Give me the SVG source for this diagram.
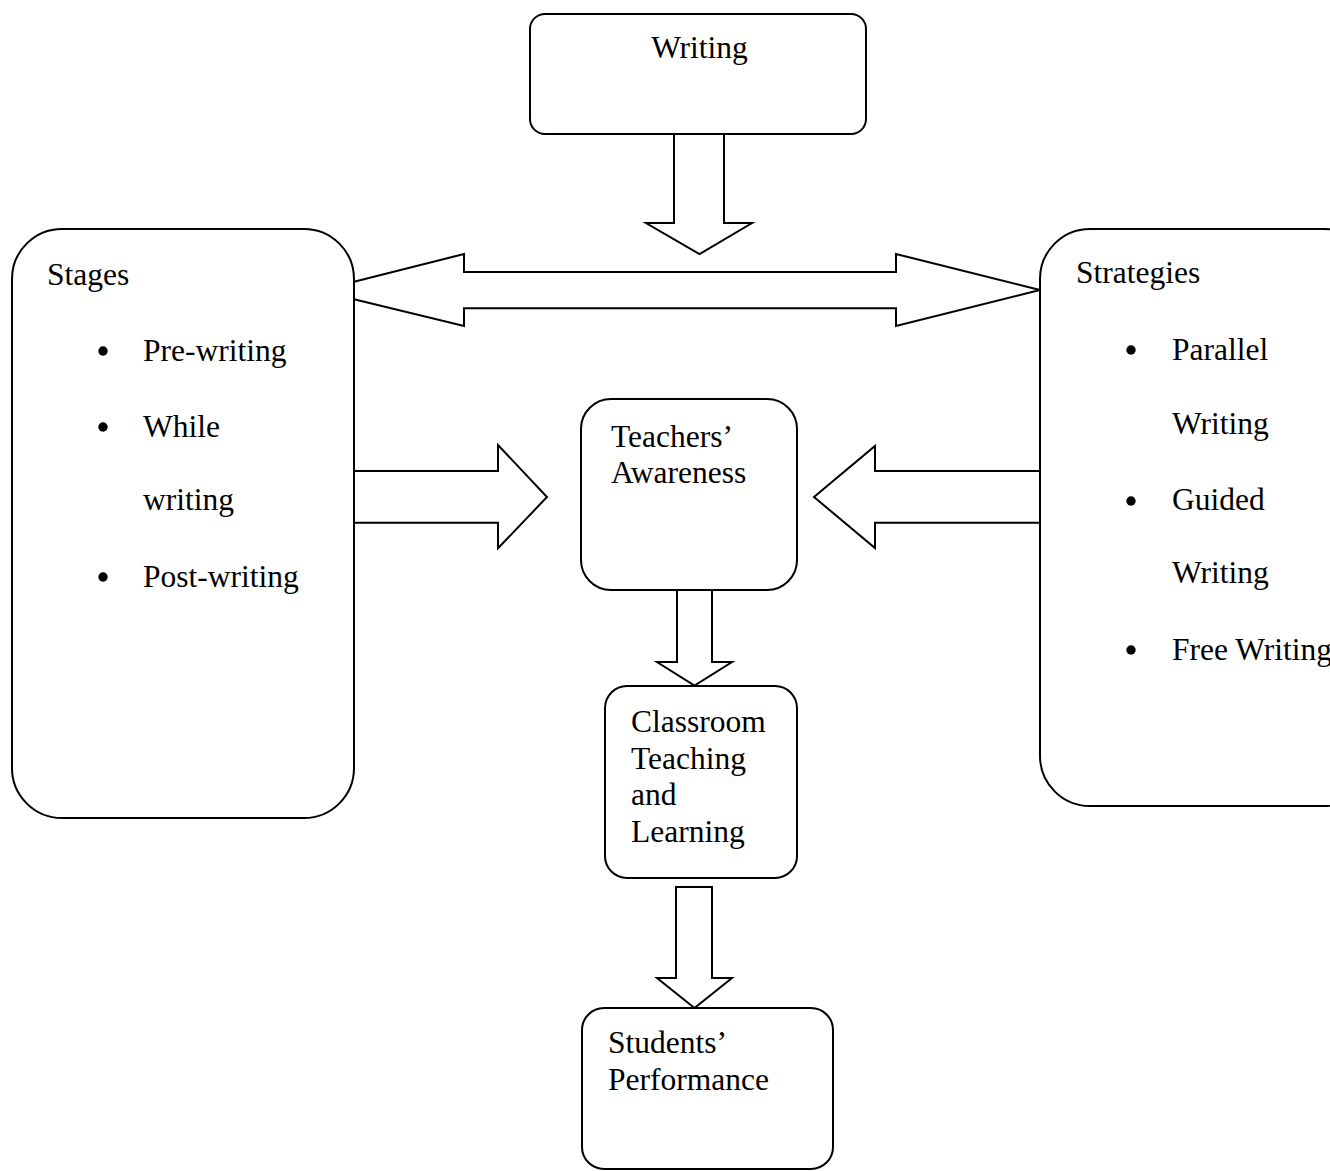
<svg xmlns="http://www.w3.org/2000/svg" width="1330" height="1171" viewBox="0 0 1330 1171">
<style>
.box{fill:#fff;stroke:#000;stroke-width:2}
.arr{fill:#fff;stroke:#000;stroke-width:2;stroke-linejoin:miter}
text{font-family:"Liberation Serif","Times New Roman",serif;font-size:31.5px;fill:#000}
.bul{fill:#000}
</style>
<rect width="1330" height="1171" fill="#fff"/>
<g id="connectors">
<path class="arr" d="M674,134 L674,223 L646,223 L699.5,254 L752,223 L724,223 L724,134"/>
<path class="arr" d="M354,281.7 L464,254 L464,272 L896,272 L896,254 L1040,290 L896,326 L896,308.3 L464,308.3 L464,326 L354,299.3"/>
<path class="arr" d="M354,471 L498,471 L498,445 L547,497 L498,548.3 L498,522.7 L354,522.7"/>
<path class="arr" d="M1040,471 L875,471 L875,446 L814,497 L875,548 L875,522.7 L1040,522.7"/>
<path class="arr" d="M677,590 L677,662 L657,662 L694.5,685.5 L732,662 L712,662 L712,590"/>
<path class="arr" d="M676,887 L712,887 L712,978 L732,978 L694.5,1008 L657,978 L676,978 Z"/>
</g>
<g id="node-writing">
<rect class="box" x="530" y="14" width="336" height="120" rx="15"/>
<text x="699.5" y="58" text-anchor="middle">Writing</text>
</g>
<g id="node-stages">
<rect class="box" x="12" y="229" width="342" height="589" rx="50"/>
<text x="47" y="285">Stages</text>
<circle class="bul" cx="103" cy="351" r="4.7"/>
<text x="143" y="361">Pre-writing</text>
<circle class="bul" cx="103" cy="427" r="4.7"/>
<text x="143" y="437">While</text>
<text x="143" y="510">writing</text>
<circle class="bul" cx="103" cy="577" r="4.7"/>
<text x="143" y="587">Post-writing</text>
</g>
<g id="node-strategies">
<rect class="box" x="1040" y="229" width="335" height="577" rx="50"/>
<text x="1076" y="283">Strategies</text>
<circle class="bul" cx="1131" cy="350" r="4.7"/>
<text x="1172" y="360">Parallel</text>
<text x="1172" y="434">Writing</text>
<circle class="bul" cx="1131" cy="501" r="4.7"/>
<text x="1172" y="510">Guided</text>
<text x="1172" y="583">Writing</text>
<circle class="bul" cx="1131" cy="650" r="4.7"/>
<text x="1172" y="660">Free Writing</text>
</g>
<g id="node-teachers">
<rect class="box" x="581" y="399" width="216" height="191" rx="30"/>
<text x="611" y="447">Teachers’</text>
<text x="611" y="483">Awareness</text>
</g>
<g id="node-classroom">
<rect class="box" x="605" y="686" width="192" height="192" rx="22"/>
<text x="631" y="732">Classroom</text>
<text x="631" y="768.5">Teaching</text>
<text x="631" y="805">and</text>
<text x="631" y="841.5">Learning</text>
</g>
<g id="node-students">
<rect class="box" x="582" y="1008" width="251" height="161" rx="22"/>
<text x="608" y="1053">Students’</text>
<text x="608" y="1090">Performance</text>
</g>
</svg>
